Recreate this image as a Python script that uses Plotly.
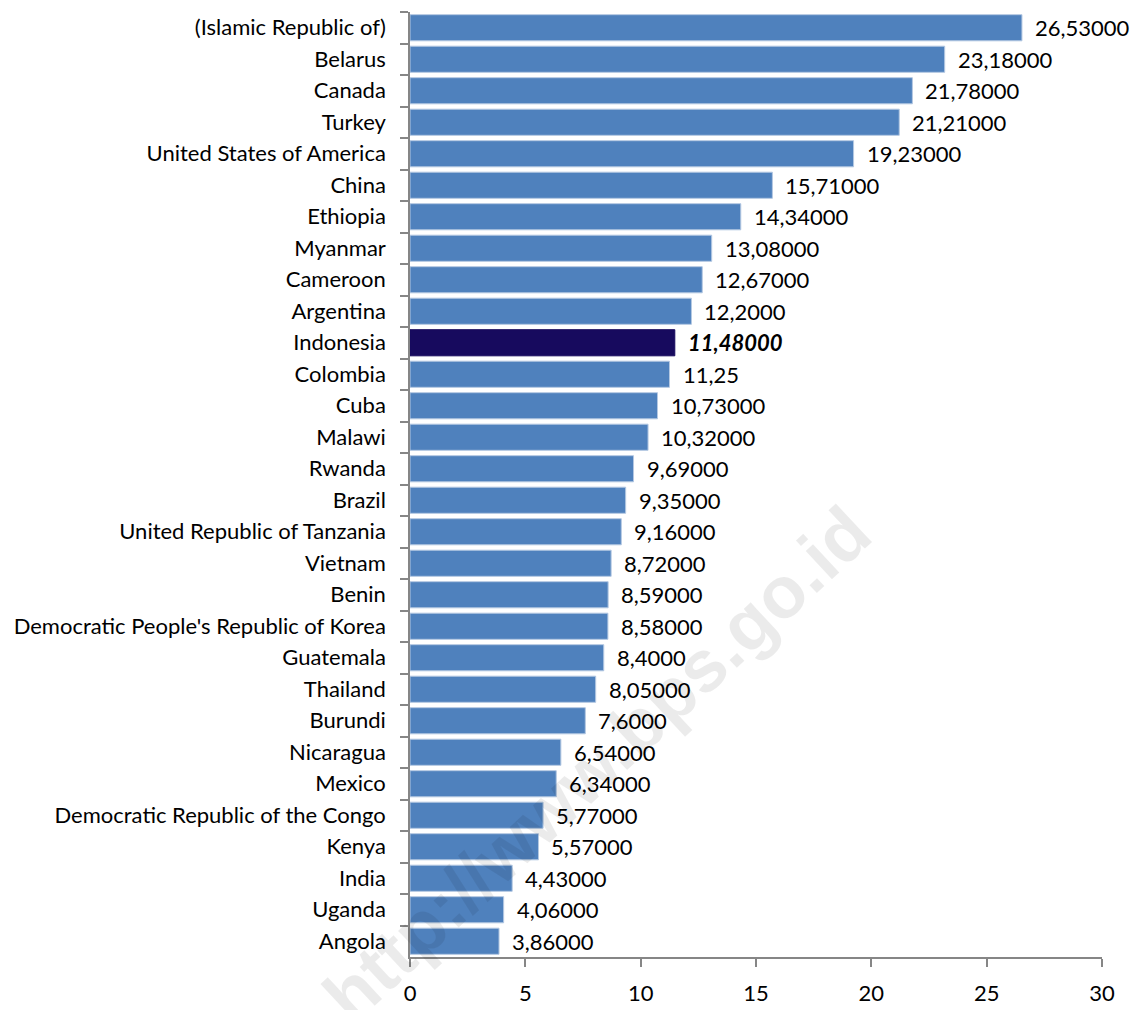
import plotly.graph_objects as go

countries = [
    "(Islamic Republic of)", "Belarus", "Canada", "Turkey", "United States of America",
    "China", "Ethiopia", "Myanmar", "Cameroon", "Argentina", "Indonesia", "Colombia",
    "Cuba", "Malawi", "Rwanda", "Brazil", "United Republic of Tanzania", "Vietnam",
    "Benin", "Democratic People's Republic of Korea", "Guatemala", "Thailand",
    "Burundi", "Nicaragua", "Mexico", "Democratic Republic of the Congo", "Kenya",
    "India", "Uganda", "Angola",
]
values = [
    26.53, 23.18, 21.78, 21.21, 19.23, 15.71, 14.34, 13.08, 12.67, 12.2, 11.48, 11.25,
    10.73, 10.32, 9.69, 9.35, 9.16, 8.72, 8.59, 8.58, 8.4, 8.05, 7.6, 6.54, 6.34,
    5.77, 5.57, 4.43, 4.06, 3.86,
]
value_labels = [
    "26,53000", "23,18000", "21,78000", "21,21000", "19,23000", "15,71000", "14,34000",
    "13,08000", "12,67000", "12,2000", "11,48000", "11,25", "10,73000", "10,32000",
    "9,69000", "9,35000", "9,16000", "8,72000", "8,59000", "8,58000", "8,4000",
    "8,05000", "7,6000", "6,54000", "6,34000", "5,77000", "5,57000", "4,43000",
    "4,06000", "3,86000",
]
x_ticks = [0, 5, 10, 15, 20, 25, 30]
highlight = "Indonesia"

BLUE = "#4f81bd"
NAVY = "#170a5e"
FONT = "Lato, 'Open Sans', sans-serif"

colors = [NAVY if c == highlight else BLUE for c in countries]
line_colors = [NAVY if c == highlight else "#b4c8e2" for c in countries]

fig = go.Figure()
fig.add_trace(go.Bar(
    x=values, y=countries, orientation="h",
    marker=dict(color=colors, line=dict(color=line_colors, width=1)),
    hoverinfo="skip",
))

annotations = []
for c, v, t in zip(countries, values, value_labels):
    txt = f"<b><i>{t}</i></b>" if c == highlight else t
    annotations.append(dict(
        x=v, y=c, xref="x", yref="y", text=txt, showarrow=False,
        xanchor="left", yanchor="middle", xshift=11,
        font=dict(family=FONT, size=22, color="#000000"),
    ))

annotations.append(dict(
    x=0.27, y=0.205, xref="paper", yref="paper", text="<b>http://www.bps.go.id</b>",
    showarrow=False, textangle=-43, xanchor="center", yanchor="middle",
    font=dict(family="'Liberation Sans', Arial, sans-serif", size=73, color="rgba(0,0,0,0.08)"),
))

fig.update_layout(
    width=1133, height=1002,
    margin=dict(l=402, r=39, t=4, b=44),
    paper_bgcolor="white", plot_bgcolor="white",
    showlegend=False, bargap=0.17,
    annotations=annotations,
    font=dict(family=FONT, color="#000000"),
)
fig.update_xaxes(
    range=[0, 30], tickvals=x_ticks, ticktext=[str(v) for v in x_ticks],
    showgrid=False, zeroline=False, showline=True, linecolor="#868686", linewidth=1.5,
    ticks="outside", ticklen=8, tickcolor="#868686", tickwidth=1.5,
    ticklabelstandoff=8,
    tickfont=dict(family=FONT, size=22, color="#000000"),
)
fig.update_yaxes(
    categoryorder="array", categoryarray=countries, autorange="reversed",
    showgrid=False, zeroline=False, showline=True, linecolor="#868686", linewidth=1.5,
    ticks="outside", ticklen=8, tickcolor="#868686", tickwidth=1.5, tickson="boundaries",
    ticklabelstandoff=18,
    tickfont=dict(family=FONT, size=22, color="#000000"),
)

fig.write_html("out.html")
